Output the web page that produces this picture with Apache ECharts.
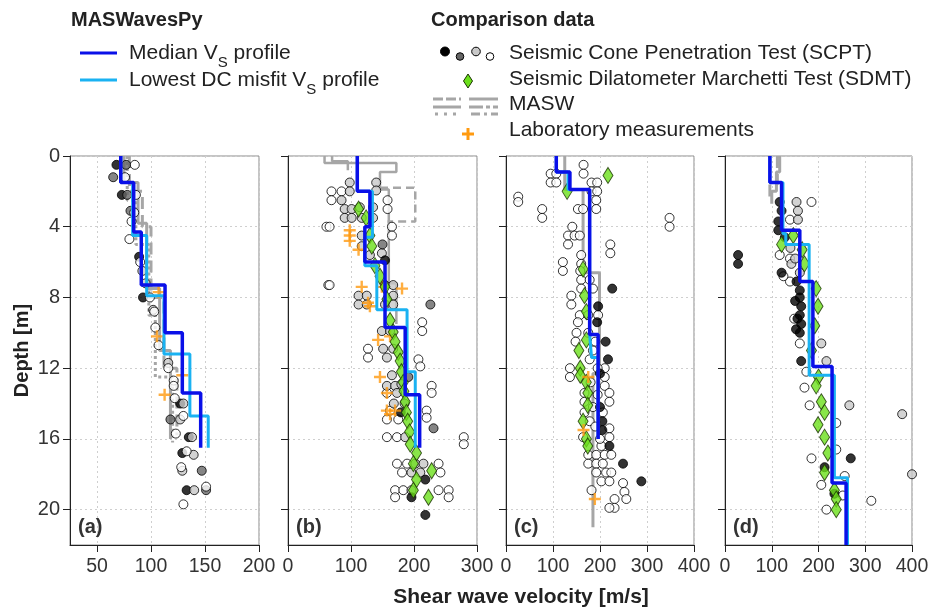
<!DOCTYPE html>
<html>
<head>
<meta charset="utf-8">
<script src="https://cdn.jsdelivr.net/npm/echarts@6/dist/echarts.min.js"></script>
<style>
  html, body { margin: 0; padding: 0; background: #fff; }
  #chart { width: 932px; height: 612px; }
</style>
</head>
<body>
<div id="chart"></div>
<script>
// ---- data: [velocity m/s, depth m] ----
// panel (a)
var scptA_black = [[68,0.5],[73,2.2],[89,5.7],[92.6,8.0],[127,14.0],[135,15.9],[129,16.8],[133,18.9]];
var scptA_dgray = [[77,0.5],[65,1.2],[78,2.2],[81,3.1],[118,14.9],[147,17.8],[151,18.9]];
var scptA_lgray = [[102,8.7],[116,11.7],[130,14.0],[127,14.9],[138,15.9],[139.5,16.9],[129,17.8],[140,18.9],[92,6.5],[95,7.2]];
var scptA_white = [[85,0.5],[76,1.2],[86,2.2],[84.5,3.2],[82,3.7],[80,4.7],[90,6.0],[99,8.0],[103,8.8],[104,9.7],[107,10.7],
  [116,12.0],[121,12.7],[121,13.0],[122,13.7],[130,14.7],[123,15.7],[133,16.7],[128,17.6],[151,18.7],[130,19.7]];
var labA = [[107,7.7],[105.5,10.2],[129,12.4],[112.6,13.5]];
var medA_v = [72,84,91,113,129,146],  medA_d = [0,1.5,4.3,7.3,10.0,13.4,16.5];
var lowA_v = [72,83,96,112,136,153],  lowA_d = [0,1.5,4.5,7.9,11.2,14.7,16.5];
var maswA1_v = [75,88,96,108,118],     maswA1_d = [0,1.5,3.8,7.5,11,16];
var maswA2_v = [80,92,100,112,124],    maswA2_d = [0,2,4,8,12,15.8];
var maswA3_v = [78,86,98,104,120],     maswA3_d = [0,2.5,5,9,12.5,16.2];

// panel (b)
var scptB_black = [[154,5.9],[179,14.5],[218,18.3],[196,19.3],[218,20.3]];
var scptB_dgray = [[150,5.0],[226,8.4],[191,12.5],[231,15.4]];
var scptB_lgray = [[98,1.5],[140,1.5],[98,2.0],[140,1.95],[85,2.5],[90,3.0],[101,3.0],[114,2.9],[135,2.9],[90,3.5],[101,3.5],
  [117,3.5],[135,3.5],[117,4.5],[117,5.1],[149,5.5],[130,5.6],[112,7.9],[125,7.9],[154,7.3],[167,7.3],[167,7.9],[112,8.4],
  [125,8.4],[154,8.4],[167,8.4],[149,9.9],[162,9.9],[151,10.9],[157,11.4],[167,10.9],[157,13.0],[170,13.0],[173,13.4],
  [165,12.4],[180,12.9],[185,14.0],[168,14.0],[186,15.9],[202,17.4],[215,17.4],[196,17.9],[210,17.9],[196,18.9]];
var scptB_white = [[69,2.0],[85,2.0],[69,2.5],[158,2.5],[158,3.0],[61,4.0],[66,4.0],[165,4.0],[165,4.5],[64,7.3],[66,7.3],
  [213,9.4],[213,9.9],[127,10.9],[127,11.4],[207,11.5],[210,11.9],[157,13.4],[228,13.0],[228,13.4],[220,14.4],[220,14.8],
  [162,14.4],[157,14.9],[175,14.9],[157,15.9],[173,15.9],[279,15.9],[279,16.3],[173,17.4],[189,17.4],[239,17.4],[181,17.9],
  [242,17.9],[170,18.9],[183,18.9],[239,18.9],[255,18.9],[170,19.3],[255,19.3]];
var sdmtB = [[112,3.0],[124,3.5],[130,4.5],[133,5.1],[138,6.2],[146,6.8],[154,7.4],[157,8.1],[162,9.3],[167,9.95],[170,10.5],
  [175,11.1],[178,11.6],[180,12.2],[183,12.8],[184,13.3],[186,13.9],[188,14.5],[190,15.0],[193,15.6],[194,16.3],[204,16.8],
  [199,17.4],[228,17.8],[204,18.3],[199,18.9],[223,19.3]];
var labB = [[98,4.2],[98,4.5],[98,4.8],[112,5.3],[117,7.4],[149,7.4],[181,7.5],[127,8.3],[130,8.5],[162,10.2],[143,10.4],
  [146,12.5],[157,13.4],[157,14.4],[170,14.4],[162,14.6]];
var medB_v = [110,130,122,154,186,209], medB_d = [0,2.0,4.0,6.0,9.7,13.5,16.5];
var lowB_v = [110,134,122,141,189,202], lowB_d = [0,2.0,4.6,6.2,8.7,12.2,16.5];
var maswB1 = [[58,0],[58,0.4],[172,0.4],[172,0.9],[146,0.9],[146,1.9],[160,1.9],[160,7.2],[172,7.2],[172,9.5]];
var maswB2 = [[146,1.8],[202,1.8],[202,3.7],[158,3.7]];
var maswB3 = [[70,0],[70,0.3],[95,0.3],[95,0.8]];

// panel (c)
var scptC_black = [[226,7.5],[196,8.5],[194,9.4],[212,10.5],[217,11.5],[200,12.3],[200,14.2],[205,15.0],[205,15.5],[220,16.4],
  [249,17.4],[288,18.4],[401,19.4]];
var scptC_white = [[26,2.3],[26,2.6],[95,1.0],[107,1.0],[95,1.5],[107,1.5],[165,0.5],[165,1.0],[182,1.5],[194,1.5],[182,2.0],
  [194,2.0],[192,2.5],[192,3.0],[153,3.0],[164,3.0],[77,3.0],[77,3.5],[348,3.5],[348,4.0],[141,4.0],[132,4.5],[146,4.5],
  [157,4.5],[132,5.0],[222,5.0],[222,5.5],[121,6.0],[121,6.5],[160,5.6],[160,6.1],[158,6.5],[160,7.0],[178,7.0],[160,7.5],
  [185,7.5],[139,7.9],[139,8.4],[157,9.0],[175,9.0],[196,9.0],[153,9.4],[150,10.0],[175,10.0],[148,10.5],[178,11.5],
  [136,12.0],[136,12.5],[210,12.0],[210,12.5],[210,13.0],[220,13.4],[220,13.9],[167,13.4],[167,13.9],[167,14.5],[206,14.5],
  [178,15.0],[220,15.4],[220,15.9],[164,15.9],[203,16.4],[175,16.9],[192,16.9],[210,16.9],[224,16.9],[175,17.4],[192,17.4],
  [206,17.4],[192,17.9],[213,17.9],[224,17.9],[203,18.4],[220,18.4],[249,18.5],[252,19.0],[256,19.4],[182,18.9],[231,19.4],
  [231,19.9],[220,19.9],[190,10.5],[185,11.0],[195,12.0],[180,12.8],[195,13.5],[185,14.2],[190,15.3],[200,16.0]];
var sdmtC = [[217,1.1],[130,2.0],[164,6.4],[167,7.9],[171,8.8],[171,10.4],[155,11.0],[158,12.0],[158,12.4],[171,12.8],
  [174,13.4],[174,14.1],[164,15.0],[171,16.0],[174,16.4]];
var labC = [[175,12.5],[165,15.5],[189,19.4]];
var medC_v = [107,136,178,196],     medC_d = [0,0.9,1.9,10.1,16.0];
var lowC_v = [107,132,178,182,196], lowC_d = [0,0.9,1.9,10.1,11.4,16.0];
var maswC1 = [[125,0],[125,1.9],[164,1.9],[164,6.6],[199,6.6],[199,12.3],[185,12.3],[185,21]];

// panel (d)
var scptD_black = [[28,5.6],[28,6.1],[117,2.6],[121,3.1],[114,3.7],[114,4.2],[128,4.6],[121,6.6],[153,7.1],[160,7.6],[160,8.0],
  [163,8.5],[160,9.0],[163,9.5],[160,10.0],[150,8.2],[155,9.2],[152,9.8],[163,11.6],[269,17.1],[213,17.6],[234,19.1]];
var scptD_lgray = [[153,2.6],[156,3.1],[156,3.6],[142,6.1],[160,6.6],[206,10.6],[217,11.6],[266,14.1],[379,14.6],[400,18.0],
  [140,5.2],[150,5.8]];
var scptD_white = [[185,2.6],[139,3.6],[117,5.6],[139,5.8],[139,7.1],[160,10.6],[174,12.2],[170,13.1],[181,14.1],[238,15.1],
  [185,17.1],[206,18.6],[313,19.5],[217,20.0],[256,18.1],[252,19.2],[238,16.6],[125,6.8],[148,9.2]];
var sdmtD = [[121,5.0],[146,4.5],[165,5.3],[170,6.1],[195,7.5],[199,8.5],[192,9.6],[185,11.0],[200,12.5],[195,13.0],[206,13.9],
  [213,14.5],[199,15.2],[213,15.9],[220,16.8],[213,17.9],[234,18.9],[238,19.4],[238,20.0]];
var medD_v = [96,121,160,188,229,259],     medD_d = [0,1.5,4.2,7.1,11.9,18.5,22];
var lowD_v = [96,124,130,180,234,262],     lowD_d = [0,1.5,4.4,5.0,12.4,18.2,22];
var maswD1 = [[117,0],[117,0.9],[110,0.9],[110,2.0],[100,2.0],[100,2.7]];
var maswD2 = [[112,0],[112,1.6],[96,1.6],[96,2.6]];

// axes
var xRanges = [[25,200],[0,300],[0,400],[0,400]];
var xTicks = [[50,100,150,200],[0,100,200,300],[0,100,200,300,400],[0,100,200,300,400]];
var depthMax = 22;
var depthTicks = [0,4,8,12,16,20];
var panelNames = ['(a)','(b)','(c)','(d)'];

var FONT = '"Liberation Sans", Arial, sans-serif';
var C_DARK = '#0a10e8', C_LIGHT = '#1ab2f2', C_MASW = '#a6a6a6';
var C_GREEN = '#6be01a', C_ORANGE = '#ff9a10';
var plusPath = 'path://M4,0 H6 V4 H10 V6 H6 V10 H4 V6 H0 V4 H4 Z';

function steps(v, d) {
  var pts = [];
  for (var i = 0; i < v.length; i++) {
    pts.push([v[i], d[i]]);
    pts.push([v[i], d[i + 1]]);
  }
  return pts;
}

var lefts = [70, 288, 506, 725];
var widths = [189, 189, 188, 187];
var grid = [], xAxis = [], yAxis = [], series = [];

for (var p = 0; p < 4; p++) {
  grid.push({left: lefts[p], top: 156, width: widths[p], height: 389,
    show: true, borderColor: '#8a8a8a', borderWidth: 1, backgroundColor: 'transparent'});
  xAxis.push({
    gridIndex: p, type: 'value', min: xRanges[p][0], max: xRanges[p][1],
    axisLine: {show: true, onZero: false, lineStyle: {color: '#222', width: 1}},
    axisTick: {show: true, length: 7, customValues: xTicks[p], lineStyle: {color: '#222'}},
    axisLabel: {customValues: xTicks[p], color: '#333', fontSize: 19.5, fontFamily: FONT, margin: 12},
    splitLine: {show: true, lineStyle: {color: '#cfcfcf', type: [2, 3], width: 1}}
  });
  yAxis.push({
    gridIndex: p, type: 'value', inverse: true, min: 0, max: depthMax,
    name: p === 0 ? 'Depth [m]' : '', nameLocation: 'middle', nameGap: 38,
    nameTextStyle: {fontSize: 20, fontWeight: 'bold', color: '#222', fontFamily: FONT},
    axisLine: {show: true, lineStyle: {color: '#222', width: 1}},
    axisTick: {show: true, length: 7, customValues: depthTicks, lineStyle: {color: '#222'}},
    axisLabel: {show: p === 0, customValues: depthTicks, color: '#333', fontSize: 20, fontFamily: FONT, margin: 10},
    splitLine: {show: true, lineStyle: {color: '#cfcfcf', type: [2, 3], width: 1}}
  });
}

function lineS(p, data, color, width, type) {
  series.push({type: 'line', xAxisIndex: p, yAxisIndex: p, data: data, symbol: 'none', silent: true,
    lineStyle: {color: color, width: width, type: type || 'solid'}, z: 2});
}
function scat(p, data, fill, size) {
  series.push({type: 'scatter', xAxisIndex: p, yAxisIndex: p, data: data, symbolSize: size || 9,
    itemStyle: {color: fill, borderColor: '#000', borderWidth: 1}, z: 3});
}
function sdmt(p, data) {
  series.push({type: 'scatter', xAxisIndex: p, yAxisIndex: p, data: data, symbol: 'diamond', symbolSize: [10, 16],
    itemStyle: {color: C_GREEN, borderColor: '#1a3300', borderWidth: 1}, z: 4});
}
function lab(p, data) {
  series.push({type: 'scatter', xAxisIndex: p, yAxisIndex: p, data: data, symbol: plusPath, symbolSize: 12,
    itemStyle: {color: C_ORANGE}, z: 4});
}
function profiles(p, lv, ld, mv, md) {
  series.push({type: 'line', xAxisIndex: p, yAxisIndex: p, data: steps(lv, ld), symbol: 'none',
    lineStyle: {color: C_LIGHT, width: 3}, z: 5});
  series.push({type: 'line', xAxisIndex: p, yAxisIndex: p, data: steps(mv, md), symbol: 'none',
    lineStyle: {color: C_DARK, width: 3.5}, z: 6});
}

// (a)
lineS(0, steps(maswA1_v, maswA1_d), C_MASW, 3);
lineS(0, steps(maswA2_v, maswA2_d), C_MASW, 3, 'dashed');
lineS(0, steps(maswA3_v, maswA3_d), C_MASW, 3, 'dotted');
scat(0, scptA_black, '#000'); scat(0, scptA_dgray, '#666'); scat(0, scptA_lgray, '#c8c8c8'); scat(0, scptA_white, '#fff');
lab(0, labA);
profiles(0, lowA_v, lowA_d, medA_v, medA_d);
// (b)
lineS(1, maswB1, C_MASW, 2.5); lineS(1, maswB2, C_MASW, 2.5, [8, 5]); lineS(1, maswB3, C_MASW, 2.5);
scat(1, scptB_white, '#fff'); scat(1, scptB_lgray, '#c8c8c8'); scat(1, scptB_dgray, '#666'); scat(1, scptB_black, '#000');
lab(1, labB); sdmt(1, sdmtB);
profiles(1, lowB_v, lowB_d, medB_v, medB_d);
// (c)
lineS(2, maswC1, C_MASW, 3);
scat(2, scptC_white, '#fff'); scat(2, scptC_black, '#000');
sdmt(2, sdmtC); lab(2, labC);
profiles(2, lowC_v, lowC_d, medC_v, medC_d);
// (d)
lineS(3, maswD1, C_MASW, 3); lineS(3, maswD2, C_MASW, 3, 'dashed');
scat(3, scptD_white, '#fff'); scat(3, scptD_lgray, '#c8c8c8'); scat(3, scptD_black, '#000');
sdmt(3, sdmtD);
profiles(3, lowD_v, lowD_d, medD_v, medD_d);

// legend + labels drawn as graphics
var LEG = '21px ' + FONT;
var sub = {s: {fontSize: 15, fontFamily: FONT, fill: '#222', verticalAlign: 'bottom', lineHeight: 34}};
var graphic = [
  {type: 'text', left: 71, top: 10, style: {text: 'MASWavesPy', font: 'bold 20px ' + FONT, fill: '#222'}},
  {type: 'text', left: 431, top: 10, style: {text: 'Comparison data', font: 'bold 20px ' + FONT, fill: '#222'}},
  {type: 'line', shape: {x1: 80, y1: 53, x2: 117, y2: 53}, style: {stroke: C_DARK, lineWidth: 3}},
  {type: 'line', shape: {x1: 80, y1: 80, x2: 117, y2: 80}, style: {stroke: C_LIGHT, lineWidth: 3}},
  {type: 'text', x: 129, y: 53, style: {text: 'Median V{s|S} profile', rich: sub, font: LEG, fill: '#222', verticalAlign: 'middle'}},
  {type: 'text', x: 129, y: 80, style: {text: 'Lowest DC misfit V{s|S} profile', rich: sub, font: LEG, fill: '#222', verticalAlign: 'middle'}},
  {type: 'circle', shape: {cx: 445, cy: 51.5, r: 4.5}, style: {fill: '#000', stroke: '#000'}},
  {type: 'circle', shape: {cx: 460, cy: 56.5, r: 3.8}, style: {fill: '#666', stroke: '#000'}},
  {type: 'circle', shape: {cx: 476, cy: 51.5, r: 4.3}, style: {fill: '#c8c8c8', stroke: '#000'}},
  {type: 'circle', shape: {cx: 490, cy: 56.5, r: 3.8}, style: {fill: '#fff', stroke: '#000'}},
  {type: 'polygon', shape: {points: [[468, 74], [472.5, 81], [468, 88], [463.5, 81]]}, style: {fill: C_GREEN, stroke: '#1a3300'}},
  {type: 'line', shape: {x1: 433, y1: 99, x2: 461, y2: 99}, style: {stroke: C_MASW, lineWidth: 3, lineDash: [10, 3]}},
  {type: 'line', shape: {x1: 469, y1: 99, x2: 498, y2: 99}, style: {stroke: C_MASW, lineWidth: 3}},
  {type: 'line', shape: {x1: 433, y1: 107, x2: 461, y2: 107}, style: {stroke: C_MASW, lineWidth: 3}},
  {type: 'line', shape: {x1: 469, y1: 107, x2: 498, y2: 107}, style: {stroke: C_MASW, lineWidth: 3, lineDash: [14, 3, 4, 3]}},
  {type: 'line', shape: {x1: 435, y1: 114, x2: 461, y2: 114}, style: {stroke: C_MASW, lineWidth: 3, lineDash: [3, 6]}},
  {type: 'line', shape: {x1: 471, y1: 114, x2: 498, y2: 114}, style: {stroke: C_MASW, lineWidth: 3, lineDash: [9, 4, 3, 4]}},
  {type: 'rect', shape: {x: 462, y: 132.5, width: 12, height: 3}, style: {fill: C_ORANGE}},
  {type: 'rect', shape: {x: 466.5, y: 128, width: 3, height: 12}, style: {fill: C_ORANGE}},
  {type: 'text', x: 509, y: 53, style: {text: 'Seismic Cone Penetration Test (SCPT)', font: LEG, fill: '#222', verticalAlign: 'middle'}},
  {type: 'text', x: 509, y: 79, style: {text: 'Seismic Dilatometer Marchetti Test (SDMT)', font: LEG, fill: '#222', verticalAlign: 'middle'}},
  {type: 'text', x: 509, y: 104, style: {text: 'MASW', font: LEG, fill: '#222', verticalAlign: 'middle'}},
  {type: 'text', x: 509, y: 130, style: {text: 'Laboratory measurements', font: LEG, fill: '#222', verticalAlign: 'middle'}},
  {type: 'text', x: 521, y: 597, style: {text: 'Shear wave velocity [m/s]', font: 'bold 21px ' + FONT, fill: '#222', align: 'center', verticalAlign: 'middle'}}
];
for (var k = 0; k < 4; k++) {
  graphic.push({type: 'text', x: lefts[k] + 8, y: 527, z: 10,
    style: {text: panelNames[k], font: 'bold 20px ' + FONT, fill: '#333', verticalAlign: 'middle'}});
}

var myChart = echarts.init(document.getElementById('chart'));
myChart.setOption({
  animation: false,
  grid: grid,
  xAxis: xAxis,
  yAxis: yAxis,
  series: series,
  graphic: graphic
});
window.addEventListener('resize', function () {
  myChart.resize();
});
</script>
</body>
</html>
